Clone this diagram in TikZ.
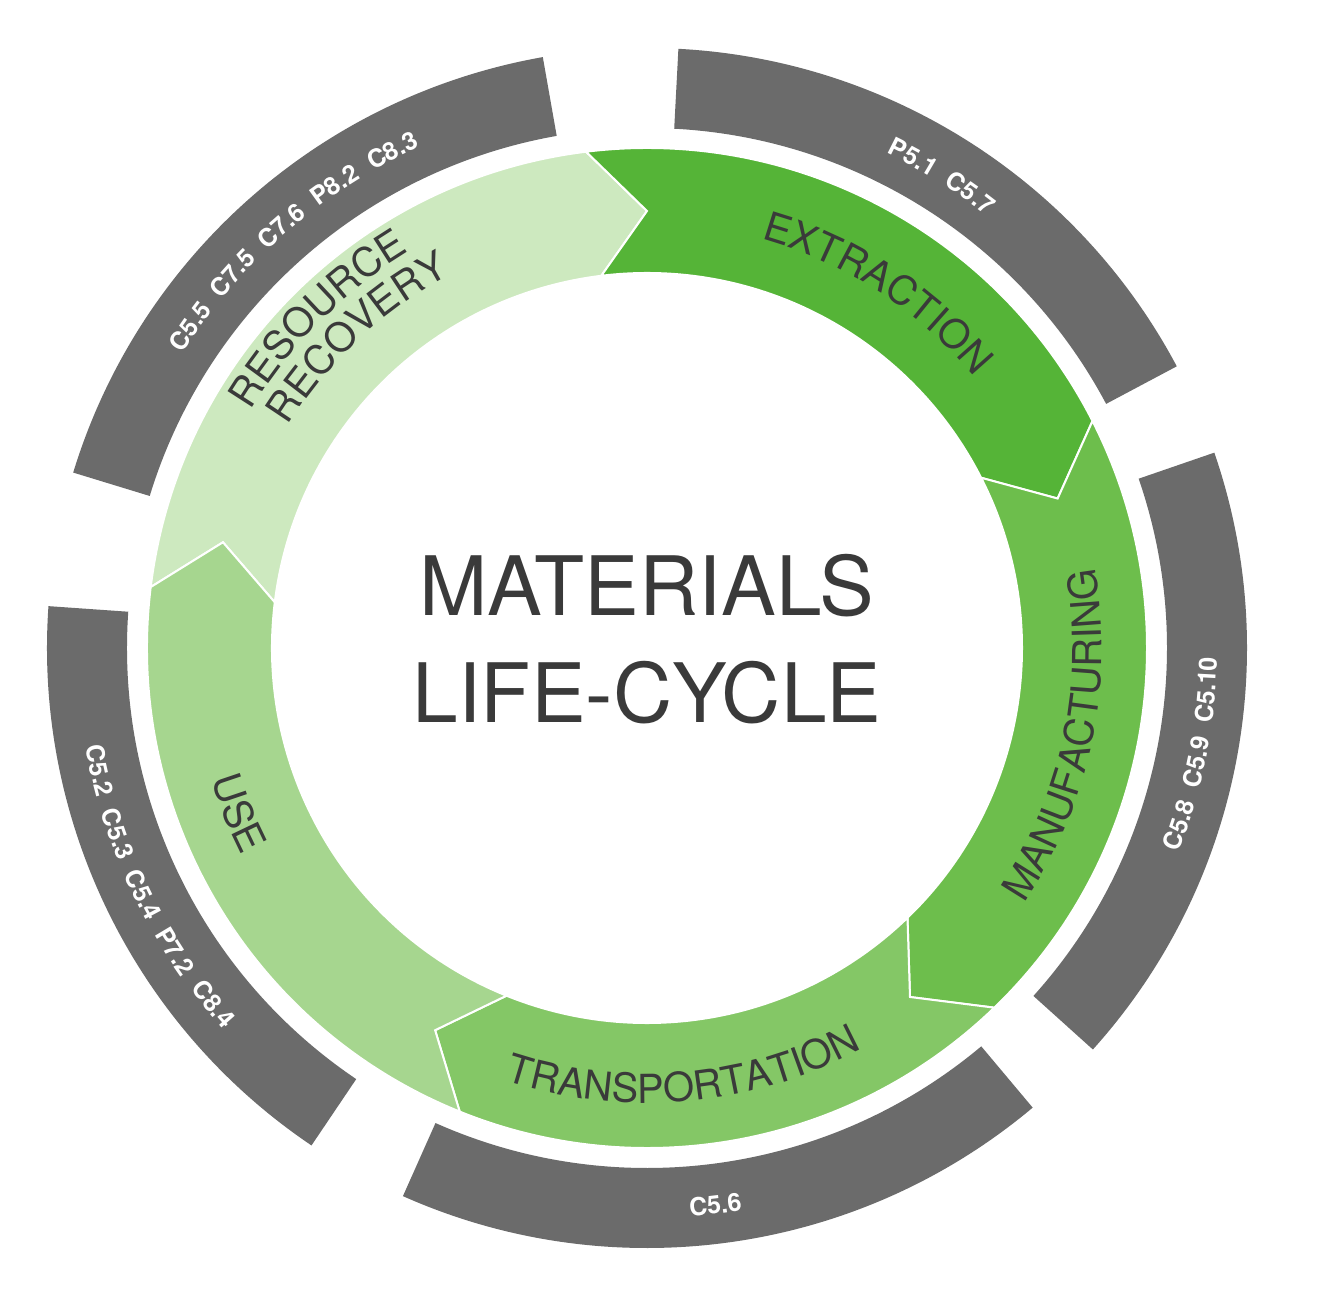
\documentclass[tikz,border=0pt]{standalone}
\usepackage{fontspec}
\setmainfont{TeX Gyre Heros}
\usetikzlibrary{decorations.text}
\definecolor{grayseg}{HTML}{6B6B6B}
\definecolor{cext}{HTML}{55B437}
\definecolor{cman}{HTML}{6DBE4C}
\definecolor{ctra}{HTML}{84C766}
\definecolor{cuse}{HTML}{A6D68F}
\definecolor{crr}{HTML}{CDE9BF}
\definecolor{ctxt}{HTML}{3A3A3A}
\newcommand{\grayseg}[2]{\fill[grayseg] (#1:600) arc[start angle=#1,end angle=#2,radius=600] -- (#2:520) arc[start angle=#2,end angle=#1,radius=520] -- cycle;}
\newcommand{\greenseg}[3]{\fill[#3,draw=white,line width=2pt] (#1:500) arc[start angle=#1,end angle=#2,radius=500] -- ({#2-7}:437) -- (#2:375) arc[start angle=#2,end angle=#1,radius=375] -- ({#1-7}:437) -- cycle;}
\newcommand{\gsp}{{\hspace{14pt}}}
\tikzset{
 gtext/.style={decorate,decoration={text along path,text align=center,text={|\fontsize{40}{40}\selectfont\color{ctxt}|#1}}},
 wtext/.style={decorate,decoration={text along path,text align=center,text={|\fontsize{25}{25}\selectfont\bfseries\color{white}|#1}}}
}
\begin{document}
\begin{tikzpicture}[x=1pt,y=1pt]
\useasboundingbox[fill=white] (-647,-645) rectangle (681,648);
\grayseg{87}{28}
\grayseg{19}{-42}
\grayseg{-50}{-114}
\grayseg{-124}{-184}
\grayseg{163}{100}
\greenseg{173}{97}{crr}
\greenseg{97}{27}{cext}
\greenseg{27}{-46}{cman}
\greenseg{-46}{-112}{ctra}
\greenseg{-112}{-187}{cuse}
% green labels
\path[gtext={EXTRACTION}] (97:425) arc[start angle=97,end angle=17,radius=425];
\path[gtext={RESOURCE}] (175:462) arc[start angle=175,end angle=95,radius=462];
\path[gtext={RECOVERY}] (173:422) arc[start angle=173,end angle=93,radius=422];
\path[gtext={MANUFACTURING}] (-52:455) arc[start angle=-52,end angle=28,radius=455];
\path[gtext={TRANSPORTATION}] (-125:455) arc[start angle=-125,end angle=-45,radius=455];
\path[gtext={USE}] (162:455) arc[start angle=162,end angle=242,radius=455];
% gray labels
\path[wtext={P5.1\gsp C5.7}] (98:550) arc[start angle=98,end angle=18,radius=550];
\path[wtext={C5.5\gsp C7.5\gsp C7.6\gsp P8.2\gsp C8.3}] (171:550) arc[start angle=171,end angle=91,radius=550];
\path[wtext={C5.8\gsp C5.9\gsp C5.10}] (-51:570) arc[start angle=-51,end angle=29,radius=570];
\path[wtext={C5.6}] (-123:570) arc[start angle=-123,end angle=-43,radius=570];
\path[wtext={C5.2\gsp C5.3\gsp C5.4\gsp P7.2\gsp C8.4}] (166:570) arc[start angle=166,end angle=246,radius=570];
\node[text=ctxt,font=\fontsize{82}{82}\selectfont] (m) at (0,62) {MATERIALS};
\node[text=ctxt,font=\fontsize{82}{82}\selectfont] (l) at (0,-45) {LIFE-CYCLE};
\end{tikzpicture}
\end{document}
